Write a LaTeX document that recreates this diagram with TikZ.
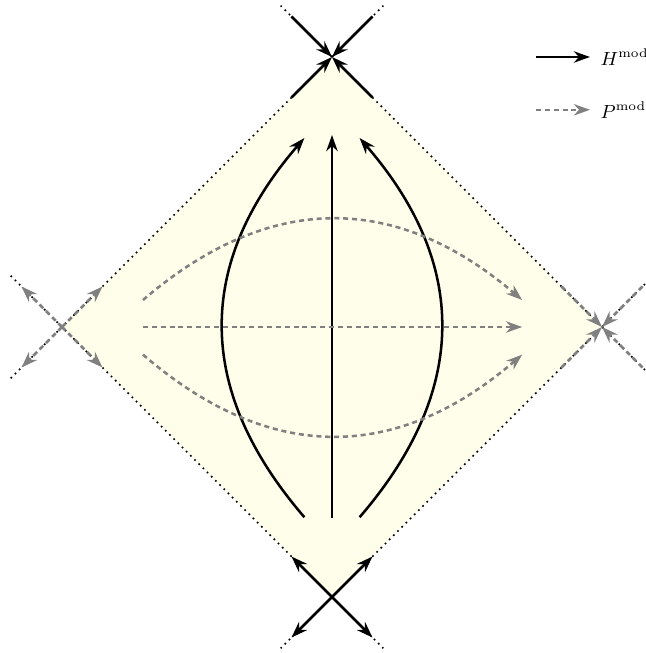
\documentclass[tikz,border=0pt]{standalone}
\usepackage{amsmath,amssymb}
\usepackage{tikz}
\usepackage{xcolor}
\usetikzlibrary{arrows.meta,calc}

\definecolor{wedgefill}{RGB}{255,254,234}

\begin{document}
\begin{tikzpicture}[
    hmod/.style={line width=1.2pt, -{Stealth[length=2.7mm,width=1.9mm]}},
    pmod/.style={gray, line width=1.2pt, dash pattern=on 2.4pt off 1.8pt, -{Stealth[length=2.7mm,width=1.9mm]}},
    cone/.style={dotted, line width=0.8pt},
    leg/.style={anchor=west, inner xsep=0.17cm, font=\small}]
    \useasboundingbox (-5.533,-5.433) rectangle (5.217,5.45);

    % corners of the wedge
    \coordinate (T) at (0,4.5);
    \coordinate (B) at (0,-4.5);
    \coordinate (L) at (-4.5,0);
    \coordinate (R) at (4.5,0);

    \fill[wedgefill] (T) -- (R) -- (B) -- (L) -- cycle;
    \draw[cone] ($(L)!-0.19!(T)$) -- ($(T)!-0.19!(L)$);
    \draw[cone] ($(R)!-0.19!(T)$) -- ($(T)!-0.19!(R)$);
    \draw[cone] ($(L)!-0.19!(B)$) -- ($(B)!-0.19!(L)$);
    \draw[cone] ($(R)!-0.19!(B)$) -- ($(B)!-0.19!(R)$);

    % flow near the corners
    \foreach \s in {0.15,-0.15} {
        \draw[hmod] ($(T)!\s!(L)$) -- (T);
        \draw[hmod] ($(T)!\s!(R)$) -- (T);
        \draw[hmod] (B) -- ($(B)!\s!(L)$);
        \draw[hmod] (B) -- ($(B)!\s!(R)$);
        \draw[pmod] (L) -- ($(L)!\s!(T)$);
        \draw[pmod] (L) -- ($(L)!\s!(B)$);
        \draw[pmod] ($(R)!\s!(T)$) -- (R);
        \draw[pmod] ($(R)!\s!(B)$) -- (R);
    }

    % modular Hamiltonian flow
    \coordinate (h0) at (0,-3.18);      \coordinate (h0e) at (0,3.2);
    \coordinate (h1) at (-0.46,-3.17);  \coordinate (h1e) at (-0.46,3.15);
    \coordinate (h2) at (0.46,-3.17);   \coordinate (h2e) at (0.46,3.15);
    \draw[hmod] (h0) -- (h0e);
    \draw[hmod] (h1) .. controls (-2.28,-1.06) and (-2.28,1.05) .. (h1e);
    \draw[hmod] (h2) .. controls (2.28,-1.06) and (2.28,1.05) .. (h2e);

    % modular momentum flow
    \coordinate (p0) at (-3.15,0);      \coordinate (p0e) at (3.17,0);
    \coordinate (p1) at (-3.15,0.45);   \coordinate (p1e) at (3.17,0.45);
    \coordinate (p2) at (-3.15,-0.46);  \coordinate (p2e) at (3.17,-0.46);
    \draw[pmod] (p0) -- (p0e);
    \draw[pmod] (p1) .. controls (-1.05,2.25) and (1.06,2.25) .. (p1e);
    \draw[pmod] (p2) .. controls (-1.05,-2.27) and (1.06,-2.27) .. (p2e);

    % legend
    \coordinate (hleg) at (3.4,4.5);
    \coordinate (pleg) at (3.4,3.62);
    \node[leg] (hlab) at (4.3,4.5) {$H^{\mathrm{mod}}$};
    \node[leg] (plab) at (4.3,3.62) {$P^{\mathrm{mod}}$};
    \draw[hmod] (hleg) -- (hlab);
    \draw[pmod] (pleg) -- (plab);
\end{tikzpicture}
\end{document}
